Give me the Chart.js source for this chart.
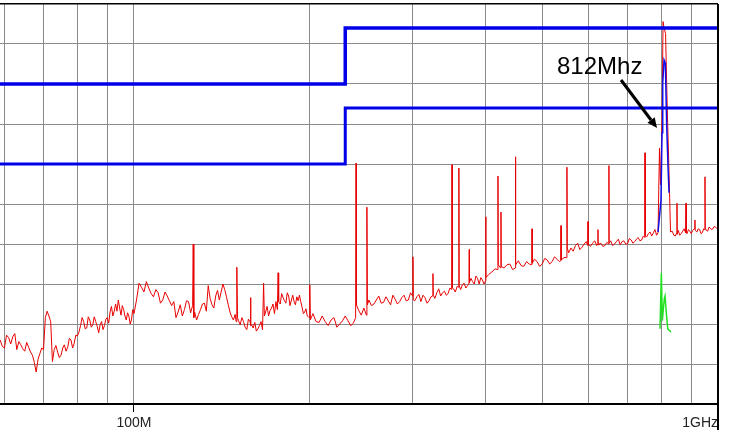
<!DOCTYPE html>
<html><head><meta charset="utf-8">
<script src="https://cdn.jsdelivr.net/npm/chart.js@4/dist/chart.umd.min.js"></script>
<style>html,body{margin:0;padding:0;background:#fff;}canvas{display:block;}</style>
</head><body>
<canvas id="c" width="740" height="442"></canvas>
<script>
// ---- data (frequency in MHz, level in dBµV/m) ----
// main sweep readings
const redFreqMHz = [
59,60,61,62,63,64,65,66,67,68,69,70,70.5,71,72,72.5,73,74,75,76,77,78,79,80,81,82,83,84,85,86,87,88,89,90,91,92,93,94,95,96,97,98,99,100,101,
102,104,106,108,110,112,114,116,118,120,122,124,126,126.3,126.6,128,130,132,134,136,138,140,142,144,146,148,149.6,150,150.4,152,154,156,158,158.3,158.6,160,162,164,166,166.7,167.2,168,170,172,174,176,176.5,176.9,178,180,182,184,186,188,190,192,194,196,198,199.6,200,200.4,
205,210,215,220,225,230,235,239.6,240,240.4,245,250,250.5,251,255,260,265,270,275,280,285,290,295,300,300.4,300.8,305,310,315,320,324.6,325,325.4,330,335,340,345,350,350.4,350.8,355,359.6,360,360.4,365,370,374.6,375,375.4,380,385,390,395,400,400.3,400.6,
410,419.6,420,420.4,424.6,425,425.4,430,440,449.5,450,450.5,460,470,480,480.4,480.8,490,500,510,520,530,538,538.5,539,550,551.2,552,560,570,580,590,598.5,599,599.5,610,620,622.6,623,623.4,630,640,650,650.5,651,660,670,680,690,700,710,720,730,740,749.5,750,750.5,760,770,780,789.4,794,797.2,802,805.2,808.4,813.2,818,824.4,829.3,840,850,850.7,851.4,860,870,880,881.5,882.5,890,900,910,913.1,914,920,930,940,949,950,951,960,970,980,990,1000
];
const redLevel = [
8.0,7.0,8.3,8.4,6.8,7.4,6.6,7.1,6.1,4.0,6.3,6.8,10.8,11.6,10.3,5.3,6.8,6.5,6.1,7.4,7.1,8.0,7.6,8.5,9.8,10.3,9.5,10.5,9.9,10.3,8.9,10.3,9.8,10.8,11.5,11.0,12.5,13.0,11.1,11.8,10.5,11.0,10.5,11.3,13.0,
15.1,14.0,14.5,13.4,13.9,13.0,13.5,12.3,10.8,12.4,11.8,12.8,12.3,20.0,10.8,10.5,11.8,12.6,14.8,12.4,13.5,13.0,15.0,13.4,11.5,10.5,10.3,17.1,10.8,9.9,10.3,9.3,10.3,13.3,9.8,9.5,9.1,9.8,9.3,15.1,11.0,11.5,11.0,12.0,11.3,11.8,16.4,12.8,12.5,13.3,12.6,13.5,13.0,12.8,13.4,13.6,12.1,11.5,11.0,10.8,14.9,10.5,
10.3,11.0,9.8,10.8,10.0,11.0,9.8,10.8,30.1,12.4,11.1,11.1,24.6,12.4,12.3,13.0,12.6,13.4,12.4,13.1,12.8,13.6,13.0,13.5,18.4,13.0,13.4,12.8,13.3,12.9,13.5,16.3,13.6,13.9,13.5,14.1,13.8,14.3,29.9,14.5,14.0,14.6,29.5,14.8,14.9,14.5,15.0,19.3,15.2,15.3,16.0,15.0,15.5,15.4,23.4,15.8,
16.5,16.8,28.5,17.4,17.0,24.0,17.2,17.0,17.5,17.0,30.9,17.4,17.3,17.8,17.4,21.9,17.6,17.8,17.5,18.0,17.8,18.1,17.9,22.3,18.0,18.3,29.6,19.5,19.5,19.8,19.3,20.0,19.8,22.8,20.0,20.1,19.8,20.0,21.8,20.1,20.1,19.8,20.0,29.8,20.1,19.8,20.3,19.9,20.4,20.0,20.5,20.3,20.8,20.5,20.8,31.4,21.0,21.3,21.0,21.8,21.4,32.0,27.4,35.5,47.8,47.0,46.3,38.0,28.9,21.5,21.1,21.4,25.1,21.2,21.1,21.6,21.4,25.1,21.5,21.8,21.3,21.9,23.0,21.7,21.5,21.8,21.4,21.8,28.4,22.0,21.6,22.0,21.9,22.1,21.9
];
// in-between noise readings of the same sweep
const redNoiseFreqMHz = [
59.5,60.5,61.5,62.5,63.5,64.5,65.5,66.5,67.5,68.5,69.5,71.5,73.5,74.5,75.5,76.5,77.5,78.5,79.5,80.5,81.5,82.5,83.5,84.5,85.5,86.5,87.5,88.5,89.5,90.5,91.5,92.5,93.5,94.5,95.5,96.5,97.5,98.5,99.5,
103,105,107,109,111,113,115,117,119,121,123,125,127,129,131,133,135,137,139,141,143,145,147,149,151,153,155,157,159,161,163,165,169,171,173,175,179,181,183,185,187,189,191,193,195,197,199,
202.5,207.5,212.5,217.5,222.5,227.5,232.5,237.5,242.5,247.5,252.5,257.5,262.5,267.5,272.5,277.5,282.5,287.5,292.5,297.5,302.5,307.5,312.5,317.5,322.5,327.5,332.5,337.5,342.5,347.5,352.5,357.5,362.5,367.5,372.5,377.5,382.5,387.5,392.5,397.5,
405,415,435,445,455,465,475,485,495,505,515,525,535,545,555,565,575,585,595,605,615,625,635,645,655,665,675,685,695,705,715,725,735,745,755,765,775,785,835,845,855,865,875,885,895,905,925,935,945,955,965,975,985,995
];
const redNoiseLevel = [
7.2,8.6,7.5,8.8,7.8,6.9,7.7,6.5,5.2,5.6,7.0,11.0,7.3,5.8,7.0,6.6,8.2,7.0,8.6,9.0,10.8,9.4,10.9,9.6,10.9,9.7,9.9,9.3,10.6,10.1,12.2,11.6,11.6,12.0,12.3,11.0,11.4,10.0,11.8,
14.6,15.3,13.8,14.3,12.6,14.0,12.9,12.8,11.5,11.0,12.9,11.4,11.5,11.2,12.5,11.6,13.2,12.0,14.2,14.0,14.3,12.4,10.9,11.2,10.4,10.8,9.6,10.6,9.9,10.2,9.4,10.3,12.2,11.7,12.5,12.8,13.8,12.9,13.9,12.3,13.6,12.4,12.9,12.8,11.3,11.9,10.9,
11.3,10.2,10.3,10.5,9.6,10.4,10.4,10.1,11.7,12.0,13.0,12.5,13.5,12.7,12.9,13.6,12.5,13.3,12.9,13.9,12.9,13.7,13.6,12.6,13.4,13.2,14.4,13.9,13.6,14.5,14.4,14.7,14.3,15.1,14.8,15.7,15.0,15.7,15.8,15.0,
16.2,16.9,17.4,16.8,17.9,17.2,17.5,18.1,17.2,18.2,17.5,18.4,17.8,18.3,18.9,19.1,20.1,19.6,20.3,19.7,20.4,19.9,19.7,20.2,20.4,20.0,20.6,20.3,20.0,20.7,20.1,20.6,20.4,21.0,20.9,21.5,21.4,21.1,21.6,21.0,21.7,21.3,21.9,21.3,21.6,21.7,21.9,21.3,21.9,21.7,22.1,21.8,22.2,22.0
];
const blueFreqMHz = [789.4,792.5,798.7,802.0,804.2,808.4,812.5,817.0,821.2,824.4];
const blueLevel   = [21.5,22.8,25.5,33.9,40.1,43.0,42.6,34.6,29.6,26.4];
const greenFreqMHz = [795.6,799.8,803.0,806.8,809.5,811.6,814.8,820.2,830.9];
const greenLevel   = [9.4,16.4,10.4,12.2,13.2,13.5,11.8,9.4,9.0];
const limitAFreqMHz = [30,230,230,1000];
const limitALevel   = [40,40,47,47];
const limitBFreqMHz = [30,230,230,1000];
const limitBLevel   = [30,30,37,37];
const xGridMHz = [60,70,80,90,100,200,300,400,500,600,700,800,900,1000];
const xLabelMHz = [100,1000];
const xLabelText = ['100M','1GHz'];
const annotationText = '812Mhz';

// ---- helpers ----
const pts = (xs, ys) => xs.map((x, i) => ({x, y: ys[i]}));
const redPoints = pts(redFreqMHz, redLevel).concat(pts(redNoiseFreqMHz, redNoiseLevel)).sort((a, b) => a.x - b.x);
const annot = { textAt: [530.1, 41.25], arrowFrom: [682.3, 40.5], arrowTo: [786.4, 34.5] };

const decor = {
  id: 'decor',
  afterDraw(chart) {
    const {ctx, chartArea} = chart;
    const x = chart.scales.x, y = chart.scales.y;
    ctx.save();
    const xr = x.getPixelForValue(1000);
    ctx.strokeStyle = '#000'; ctx.lineWidth = 2;
    ctx.beginPath(); ctx.moveTo(xr, chartArea.top); ctx.lineTo(xr, chartArea.bottom + 26); ctx.stroke();
    ctx.fillStyle = '#000';
    ctx.font = '24px "Liberation Sans", Arial, sans-serif';
    ctx.textBaseline = 'alphabetic'; ctx.textAlign = 'left';
    ctx.fillText(annotationText, x.getPixelForValue(annot.textAt[0]), y.getPixelForValue(annot.textAt[1]));
    const x0 = x.getPixelForValue(annot.arrowFrom[0]), y0 = y.getPixelForValue(annot.arrowFrom[1]);
    const x1 = x.getPixelForValue(annot.arrowTo[0]), y1 = y.getPixelForValue(annot.arrowTo[1]);
    const ang = Math.atan2(y1 - y0, x1 - x0);
    const hl = 10, hw = 4.5;
    const bx = x1 - hl * Math.cos(ang), by = y1 - hl * Math.sin(ang);
    ctx.strokeStyle = '#000'; ctx.lineWidth = 3; ctx.lineCap = 'butt';
    ctx.beginPath(); ctx.moveTo(x0, y0); ctx.lineTo(bx, by); ctx.stroke();
    ctx.beginPath();
    ctx.moveTo(x1, y1);
    ctx.lineTo(bx + hw * Math.sin(ang), by - hw * Math.cos(ang));
    ctx.lineTo(bx - hw * Math.sin(ang), by + hw * Math.cos(ang));
    ctx.closePath(); ctx.fill();
    ctx.restore();
  }
};

new Chart(document.getElementById('c'), {
  type: 'line',
  data: {
    datasets: [
      { label: 'Limit A', data: pts(limitAFreqMHz, limitALevel), borderColor: '#0000e8', borderWidth: 3.5, pointRadius: 0, order: 1 },
      { label: 'Limit B', data: pts(limitBFreqMHz, limitBLevel), borderColor: '#0000e8', borderWidth: 3, pointRadius: 0, order: 1 },
      { label: 'Green', data: pts(greenFreqMHz, greenLevel), borderColor: '#22e022', borderWidth: 1.5, pointRadius: 0, order: 2 },
      { label: 'Blue', data: pts(blueFreqMHz, blueLevel), borderColor: '#1010ee', borderWidth: 1.5, pointRadius: 0, order: 2 },
      { label: 'Red', data: redPoints, borderColor: '#e80000', borderWidth: 1, pointRadius: 0, order: 3 }
    ]
  },
  options: {
    responsive: false,
    animation: false,
    devicePixelRatio: 1,
    layout: { padding: { top: 4, right: 22, left: 0, bottom: 0 } },
    plugins: { legend: { display: false }, tooltip: { enabled: false } },
    elements: { line: { tension: 0 } },
    scales: {
      x: {
        type: 'logarithmic',
        min: 58.96, max: 1000,
        afterBuildTicks: s => { s.ticks = xGridMHz.map(v => ({ value: v })); },
        afterFit: s => { s.height = 38; },
        ticks: {
          autoSkip: false, maxRotation: 0, align: 'inner', padding: 3,
          color: '#222',
          font: { family: '"Liberation Sans", Arial, sans-serif', size: 14 },
          callback: v => { const i = xLabelMHz.indexOf(v); return i >= 0 ? xLabelText[i] : ''; }
        },
        grid: {
          color: c => (c.tick && c.tick.value === 1000) ? '#000' : '#8a8a8a',
          lineWidth: c => (c.tick && c.tick.value === 1000) ? 2 : 1,
          tickColor: c => (c.tick && (c.tick.value === 100 || c.tick.value === 1000)) ? '#000' : 'rgba(0,0,0,0)',
          tickLength: 8, tickWidth: 1
        },
        border: { display: true, color: '#000', width: 2 }
      },
      y: {
        min: 0, max: 50,
        ticks: { display: false, stepSize: 5 },
        afterFit: s => { s.width = 0; },
        grid: {
          color: c => (c.tick && c.tick.value === 50) ? '#000' : (c.tick && c.tick.value === 0 ? 'rgba(0,0,0,0)' : '#8a8a8a'),
          lineWidth: c => (c.tick && c.tick.value === 50) ? 1.5 : 1,
          drawTicks: false
        },
        border: { display: false }
      }
    }
  },
  plugins: [decor]
});
</script>
</body></html>
